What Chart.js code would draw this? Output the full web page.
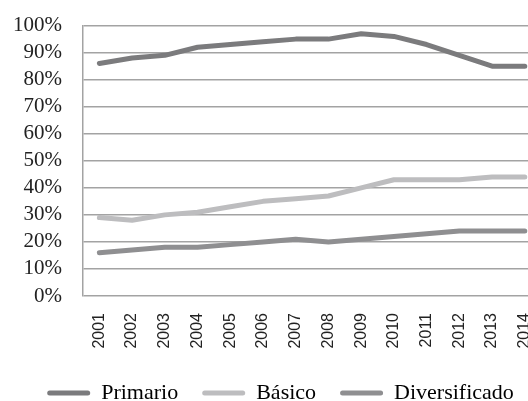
<!DOCTYPE html>
<html>
<head>
<meta charset="utf-8">
<script src="https://cdn.jsdelivr.net/npm/chart.js@4/dist/chart.umd.min.js"></script>
<style>
html,body{margin:0;padding:0;background:#fff;overflow:hidden;width:528px;height:401px;}
#wrap{width:528px;height:401px;position:relative;overflow:hidden;}
#c{position:absolute;left:0;top:-8px;}
</style>
</head>
<body>
<div id="wrap"><canvas id="c" width="561" height="422"></canvas></div>
<script>
const years = ['2001','2002','2003','2004','2005','2006','2007','2008','2009','2010','2011','2012','2013','2014'];
const primario = [86,88,89,92,93,94,95,95,97,96,93,89,85,85];
const basico = [29,28,30,31,33,35,36,37,40,43,43,43,44,44];
const diversificado = [16,17,18,18,19,20,21,20,21,22,23,24,24,24];
const seriesNames = ['Primario','Básico','Diversificado'];
const seriesColors = ['#7b7b7d','#bdbdbf','#8f8f91'];

const ds = [primario, basico, diversificado].map((d,i)=>({
  label: seriesNames[i],
  data: d,
  borderColor: seriesColors[i],
  backgroundColor: seriesColors[i],
  borderWidth: 5,
  borderCapStyle: 'round',
  borderJoinStyle: 'round',
  pointRadius: 0,
  tension: 0
}));

new Chart(document.getElementById('c'), {
  type: 'line',
  data: { labels: years, datasets: ds },
  options: {
    responsive: false,
    animation: false,
    devicePixelRatio: 1,
    layout: { padding: { left: 0, right: 0, top: 0, bottom: 0 } },
    plugins: {
      tooltip: { enabled: false },
      legend: {
        position: 'bottom',
        labels: {
          font: { family: 'Liberation Serif', size: 22 },
          color: '#222',
          boxWidth: 43,
          boxHeight: 5,
          padding: 24,
          useBorderRadius: true,
          borderRadius: 2.5,
          generateLabels: (chart) => chart.data.datasets.map((d,i)=>({
            text: d.label,
            fillStyle: d.borderColor,
            strokeStyle: d.borderColor,
            lineWidth: 0,
            borderRadius: 2.5,
            datasetIndex: i,
            hidden: false
          }))
        }
      }
    },
    scales: {
      x: {
        offset: true,
        afterFit: s => { s.height = 62; },
        grid: { display: false, drawTicks: false },
        border: { display: false },
        ticks: {
          autoSkip: false,
          minRotation: 90, maxRotation: 90,
          padding: 17,
          font: { family: 'Liberation Sans', size: 16 },
          color: '#222'
        }
      },
      y: {
        min: 0, max: 100,
        afterFit: s => { s.width = 83; },
        ticks: {
          autoSkip: false,
          stepSize: 10,
          padding: 21,
          callback: v => v + '%',
          font: { family: 'Liberation Serif', size: 21 },
          color: '#222'
        },
        grid: { color: '#a3a3a3', lineWidth: 1.5, drawTicks: false },
        border: { display: true, color: '#a3a3a3', width: 1.5 }
      }
    }
  }
});
</script>
</body>
</html>
